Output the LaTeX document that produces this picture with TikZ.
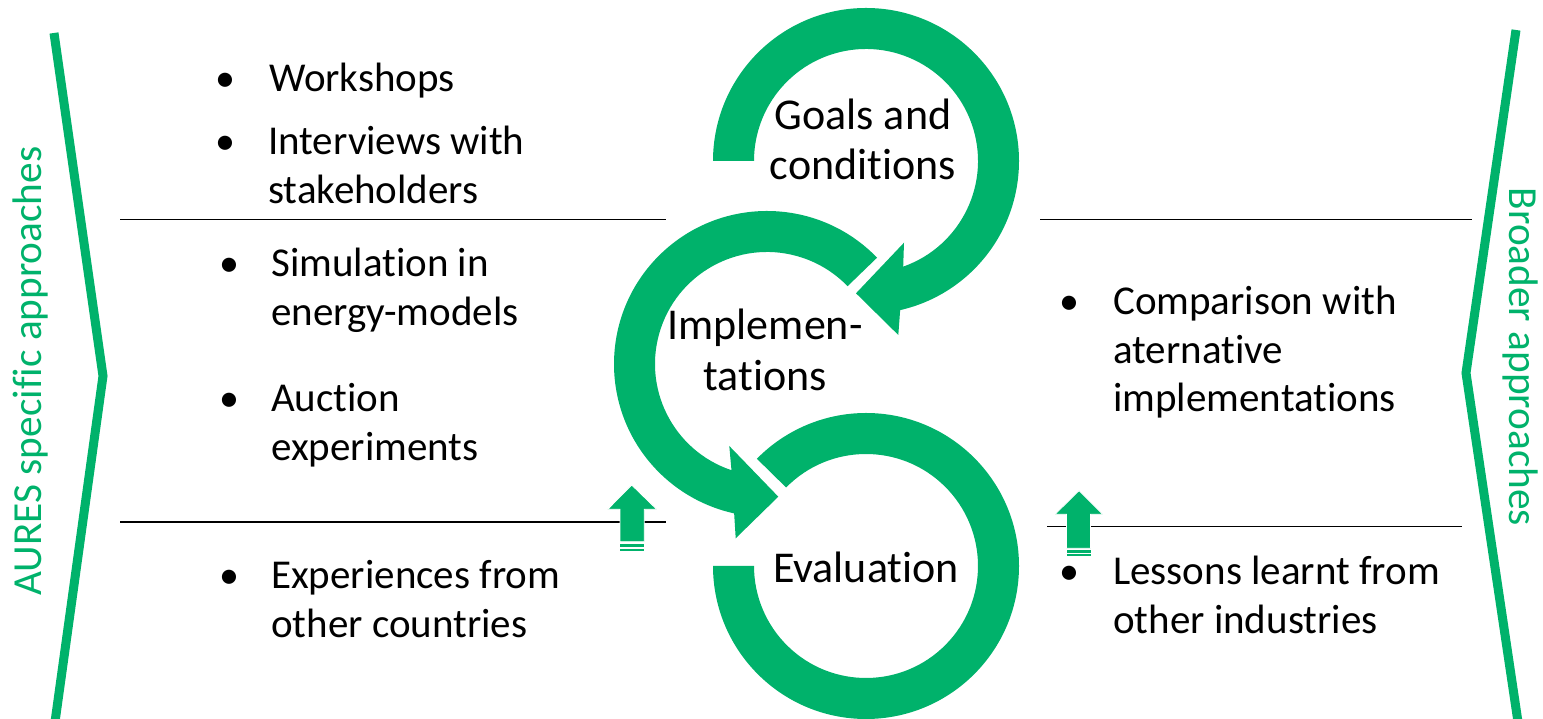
\documentclass[tikz,border=0pt]{standalone}
\usepackage{fontspec}
\setmainfont{Carlito}[Ligatures=NoCommon]
\usetikzlibrary{calc}
\definecolor{cyclegreen}{HTML}{00B26B}
% stacked lines, baseline of the first row
\newcommand{\rowsl}[1]{\begin{tabular}[t]{@{}l@{}}#1\end{tabular}}
\newcommand{\rowsc}[1]{\begin{tabular}[t]{@{}c@{}}#1\end{tabular}}

\begin{document}
\begin{tikzpicture}[x=1pt,y=1pt,
  item/.style={anchor=base west, inner sep=0pt, font=\fontsize{41}{48.5}\selectfont},
  dot/.style={anchor=base, inner sep=0pt, font=\fontsize{40}{48}\selectfont},
  stage/.style={anchor=base, inner sep=0pt, font=\fontsize{44}{50.5}\selectfont},
  side/.style={anchor=base, inner sep=0pt, text=cyclegreen, font=\fontsize{41.3}{48}\selectfont},
  rule/.style={line width=1.3pt, black},
  chevron/.style={draw=cyclegreen, line width=9pt, line join=miter},
  ring/.style={fill=cyclegreen},
  uparrow/.style={fill=cyclegreen, draw=white, line width=0.8pt},
]
\useasboundingbox (0,0) rectangle (1543,719);

% ---------- side chevrons ----------
\coordinate (ltop) at (54,686);
\coordinate (lapex) at (103,343);
\coordinate (lbot) at (55,-3);
\coordinate (rtop) at (1516,689);
\coordinate (rapex) at (1466,346);
\coordinate (rbot) at (1518,-3);
\draw[chevron] (ltop) -- (lapex) -- (lbot);
\draw[chevron] (rtop) -- (rapex) -- (rbot);

\node[side, rotate=90] (lside) at (41,348) {AURES specific approaches};
\node[side, rotate=-90] (rside) at (1509,362) {Broader approaches};

% ---------- separating rules ----------
\coordinate (l1a) at (120,499.5); \coordinate (l1b) at (666,499.5);
\coordinate (l2a) at (120,197);   \coordinate (l2b) at (666,197);
\coordinate (r1a) at (1040,499.5); \coordinate (r1b) at (1472,499.5);
\coordinate (r2a) at (1047,192.3); \coordinate (r2b) at (1462,192.3);
\draw[rule] (l1a) -- (l1b);
\draw[rule] (l2a) -- (l2b);
\draw[rule] (r1a) -- (r1b);
\draw[rule] (r2a) -- (r2b);

% ---------- cycle of curved arrows ----------
\coordinate (c1) at (866,558);
\coordinate (c2) at (767,355);
\coordinate (c3) at (866,153);

\fill[ring] ($(c1)+(180:153)$) arc[start angle=180, end angle=-77.1, radius=153]
  -- (898.3,384) -- (856,425.7) -- (904,476.3)
  -- ($(c1)+(-70.6:112)$) arc[start angle=-70.6, end angle=180, radius=112] -- cycle;

\fill[ring] ($(c2)+(44:153)$) arc[start angle=44, end angle=257.6, radius=153]
  -- (735.7,180.7) -- (778.3,222.3) -- (729.3,273)
  -- ($(c2)+(251.5:112)$) arc[start angle=251.5, end angle=44, radius=112] -- cycle;

\fill[ring] ($(c3)+(180:153)$) arc[start angle=180, end angle=495.5, radius=153]
  -- ($(c3)+(135.5:112)$) arc[start angle=495.5, end angle=180, radius=112] -- cycle;

\node[stage] (goals) at (863,589.7) {\rowsc{Goals and\\conditions}};
\node[stage] (impl) at (765,379) {\rowsc{Implemen-\\tations}};
\node[stage] (eval) at (866,136.3) {Evaluation};

% ---------- small up arrows ----------
\fill[uparrow] (631.7,234) -- (656.7,209.7) -- (644.3,209.7) -- (644.3,177.3)
  -- (620,177.3) -- (620,209.7) -- (607.7,209.7) -- cycle;
\fill[cyclegreen] (620,171.7) rectangle (644.3,174.7);
\fill[cyclegreen] (620,168) rectangle (644.3,170);

\fill[uparrow] (1079,228.3) -- (1102.7,204.7) -- (1090.5,204.7) -- (1090.5,170.7)
  -- (1066.5,170.7) -- (1066.5,204.7) -- (1055,204.7) -- cycle;
\fill[cyclegreen] (1066.5,166.3) rectangle (1090.5,169);
\fill[cyclegreen] (1066.5,163) rectangle (1090.5,165);

% ---------- bullet lists ----------
\node[dot] (b1) at (225,627.3) {•};
\node[item] (t1) at (269,627.3) {Workshops};
\node[dot] (b2) at (225,564) {•};
\node[item] (t2) at (268,564) {\rowsl{Interviews with\\stakeholders}};
\node[dot] (b3) at (229,442.3) {•};
\node[item] (t3) at (271,442.3) {\rowsl{Simulation in\\energy-models}};
\node[dot] (b4) at (229,307.3) {•};
\node[item] (t4) at (271,307.3) {\rowsl{Auction\\experiments}};
\node[dot] (b5) at (229,130) {•};
\node[item] (t5) at (271,130) {\rowsl{Experiences from\\other countries}};

\node[dot] (b6) at (1069,404) {•};
\node[item] (t6) at (1113,404) {\rowsl{Comparison with\\aternative\\implementations}};
\node[dot] (b7) at (1069,134) {•};
\node[item] (t7) at (1113,134) {\rowsl{Lessons learnt from\\other industries}};
\end{tikzpicture}
\end{document}
